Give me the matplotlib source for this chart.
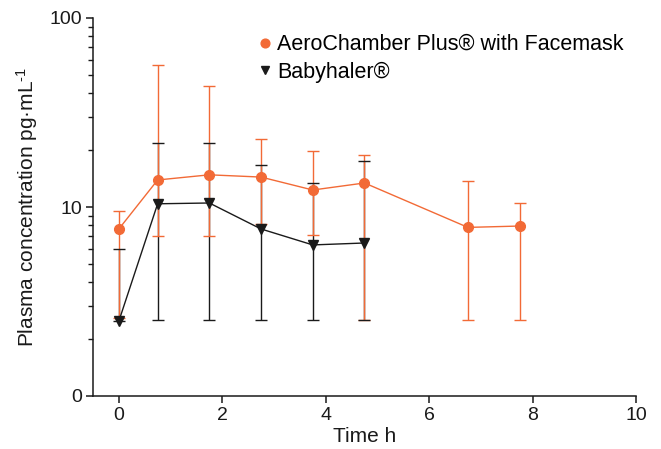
import matplotlib
matplotlib.use('Agg')
import matplotlib.pyplot as plt
from matplotlib.ticker import FixedLocator, FixedFormatter, LogLocator, NullFormatter

# time points (h)
aero_time = [0, 0.75, 1.75, 2.75, 3.75, 4.75, 6.75, 7.75]
aero_mean = [7.65, 13.9, 14.8, 14.4, 12.3, 13.4, 7.8, 7.93]
aero_upper = [9.5, 56.4, 43.6, 22.9, 19.8, 18.8, 13.7, 10.5]
aero_lower = [2.6, 7.0, 7.0, 8.1, 7.1, 2.52, 2.52, 2.52]

baby_time = [0, 0.75, 1.75, 2.75, 3.75, 4.75]
baby_mean = [2.49, 10.4, 10.5, 7.65, 6.3, 6.45]
baby_upper = [6.0, 21.8, 21.8, 16.7, 13.4, 17.5]
baby_lower = [2.49, 2.52, 2.52, 2.52, 2.52, 2.52]

y_ticks = [1, 10, 100]
y_tick_labels = ['0', '10', '100']
x_ticks = [0, 2, 4, 6, 8, 10]

ORANGE = '#F26A36'
BLACK = '#1a1a1a'

plt.rcParams['font.family'] = ['Liberation Sans', 'DejaVu Sans']
plt.rcParams['mathtext.fontset'] = 'custom'
plt.rcParams['mathtext.rm'] = 'Liberation Sans'
plt.rcParams['mathtext.it'] = 'Liberation Sans'

fig = plt.figure(figsize=(6.61, 4.49), dpi=100)
ax = fig.add_axes([93 / 661, 1 - 396 / 449, 543 / 661, 378 / 449])

baby_err = [[m - l for m, l in zip(baby_mean, baby_lower)],
            [u - m for m, u in zip(baby_mean, baby_upper)]]
aero_err = [[m - l for m, l in zip(aero_mean, aero_lower)],
            [u - m for m, u in zip(aero_mean, aero_upper)]]

_, baby_caps, _ = ax.errorbar(baby_time, baby_mean, yerr=baby_err, fmt='none',
                              ecolor=BLACK, elinewidth=1.0, capsize=4.6,
                              capthick=1.0, zorder=2)
ax.errorbar(aero_time, aero_mean, yerr=aero_err, fmt='none', ecolor=ORANGE,
            elinewidth=1.0, capsize=4.6, capthick=1.0, zorder=3)
# black caps sit above the orange bars
for c in baby_caps:
    c.set_zorder(3.5)
ax.plot(baby_time, baby_mean, color=BLACK, lw=1.0, zorder=4)
ax.plot(aero_time, aero_mean, color=ORANGE, lw=1.0, zorder=4)
ax.plot(baby_time, baby_mean, 'v', color=BLACK, ms=7, zorder=5,
        linestyle='none', label='Babyhaler®')
ax.plot(aero_time, aero_mean, 'o', color=ORANGE, ms=7, zorder=6,
        linestyle='none', label='AeroChamber Plus® with Facemask')

ax.set_yscale('log')
ax.set_ylim(1, 100)
ax.set_xlim(-0.5, 10)
ax.yaxis.set_major_locator(FixedLocator(y_ticks))
ax.yaxis.set_major_formatter(FixedFormatter(y_tick_labels))
ax.yaxis.set_minor_locator(LogLocator(base=10, subs=range(2, 10)))
ax.yaxis.set_minor_formatter(NullFormatter())
ax.set_xticks(x_ticks)

for side in ['top', 'right']:
    ax.spines[side].set_visible(False)
for side in ['left', 'bottom']:
    ax.spines[side].set_linewidth(1.1)
    ax.spines[side].set_color(BLACK)

ax.tick_params(axis='both', which='major', length=5, width=1.1, labelsize=14,
               colors=BLACK, pad=3)
ax.tick_params(axis='y', which='minor', length=3.5, width=1.0, colors=BLACK)

ax.set_xlabel('Time h', fontsize=15, labelpad=2, color=BLACK)
ax.set_ylabel('Plasma concentration pg·mL$^{\\mathrm{\u2010}1}$', fontsize=15,
              labelpad=7, color=BLACK)

handles, labels = ax.get_legend_handles_labels()
ax.legend(handles[::-1], labels[::-1], loc='upper left',
          bbox_to_anchor=(0.29, 0.98), frameon=False, fontsize=15.5,
          handlelength=0.55, handletextpad=0.3, labelspacing=0.3,
          borderaxespad=0, markerscale=0.9)

fig.savefig('out.png', dpi=100)
